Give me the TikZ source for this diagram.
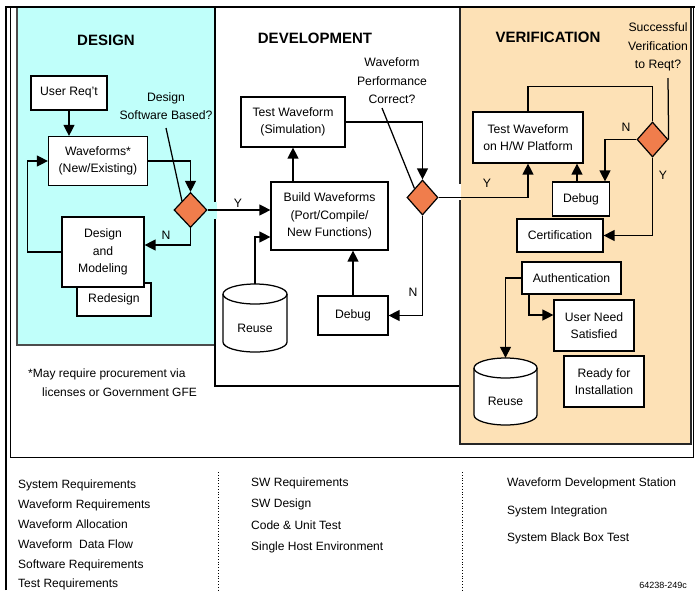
\documentclass[tikz,border=0pt]{standalone}
\usepackage{fontspec}
\setmainfont{Liberation Sans}
\usetikzlibrary{arrows.meta,shapes.geometric,calc}
\definecolor{designcyan}{RGB}{192,255,250}
\definecolor{verifytan}{RGB}{253,225,182}
\definecolor{decisionorange}{RGB}{240,125,76}

% storage drum: centre x, top y, bottom y, x radius
\newcommand\drawdrum[4]{%
  \fill[white] (#1-#4,#2+10) rectangle (#1+#4,#3-10);
  \fill[white] (#1,#3-10) ellipse[x radius=#4, y radius=10];
  \draw[link,fill=white] (#1,#2+10) ellipse[x radius=#4, y radius=10];
  \draw[link] (#1-#4,#2+10) -- (#1-#4,#3-10)
    arc[start angle=180, end angle=0, x radius=#4, y radius=10] -- (#1+#4,#2+10);
}

\begin{document}
\begin{tikzpicture}[x=1pt,y=-1pt,
  txt/.style={font=\fontsize{12.2}{17.5}\selectfont, inner sep=0pt, align=center},
  box/.style={txt, draw, fill=white, line width=1.2pt},
  decision/.style={diamond, draw, fill=decisionorange, line width=1.2pt, inner sep=0pt},
  link/.style={line width=1.25pt},
  flow/.style={link, -{Triangle[length=11pt,width=11pt]}},
  title/.style={font=\bfseries\fontsize{15}{18}\selectfont, inner sep=0pt},
  question/.style={txt, font=\fontsize{12.2}{18.5}\selectfont},
  note/.style={font=\fontsize{12}{14}\selectfont, inner sep=0pt, anchor=base west},
  drumspot/.style={inner sep=0pt}
]
\useasboundingbox (0,0) rectangle (695,590);

% ---- phase panels ----
\draw[line width=1.3pt, draw=black!70, fill=designcyan] (17,7) rectangle (215,345);
\draw[line width=1.3pt, fill=white] (215,7) rectangle (460,386);
\draw[line width=1.3pt, draw=black!85, fill=verifytan] (460,7) rectangle (691,444);
\fill[designcyan] (213.5,202) rectangle (216.5,219);
\fill[white] (455,184) rectangle (461,200);

% ---- frame ----
\draw[line width=1pt] (10,7) rectangle (693,457);
\draw[line width=2pt] (6,590) -- (6,7) -- (695,7);
\draw[dotted, line width=0.8pt] (218,472) -- (218,590);
\draw[dotted, line width=0.8pt] (462,472) -- (462,590);

% ---- design ----
\node[title] (destitle) at (106,40) {DESIGN};
\node[box, minimum width=76pt, minimum height=34pt] (ureq) at (69,93) {User Req't};
\node[box, minimum width=99pt, minimum height=49pt] (wave) at (98,161) {Waveforms*\\(New/Existing)};
\node[box, minimum width=74pt, minimum height=33pt] (redesign) at (114,299.5) {Redesign};
\node[box, minimum width=82pt, minimum height=70pt] (dm) at (103,252) {Design\\and\\Modeling};
\node[decision, minimum width=33pt, minimum height=35pt] (d1) at (190.5,210) {};
\node[txt] (q1) at (166,106) {Design\\Software Based?};
\coordinate (q1tip) at (166,128);

\draw[flow] (ureq.south) -- (ureq.south |- wave.north);
\draw[flow] (wave.east) -| (d1.north);
\draw[flow] (d1.south) |- ([yshift=7pt]dm.east);
\draw[flow] (dm.west) -- ++(-34,0) |- (wave.west);
\draw[link] (q1tip) -- (d1.north west);
\node[txt] (n1) at (166,235) {N};

% ---- development ----
\node[title] (devtitle) at (315,38) {DEVELOPMENT};
\node[question] (q2) at (392,81) {Waveform\\Performance\\Correct?};
\coordinate (q2tip) at (382,108);
\node[box, minimum width=104pt, minimum height=50pt] (tws) at (293,122) {Test Waveform\\(Simulation)};
\node[box, minimum width=117pt, minimum height=68pt] (build) at (329.5,216) {Build Waveforms\\(Port/Compile/\\New Functions)};
\node[decision, minimum width=31pt, minimum height=35pt] (d2) at (422.5,197.5) {};
\node[box, minimum width=70pt, minimum height=39pt] (dbg1) at (353,315.5) {Debug};
\drawdrum{255}{284}{352}{32}
\node[drumspot, minimum width=64pt, minimum height=68pt,
  label={[txt, yshift=-10pt]center:Reuse}] (reuse1) at (255,318) {};

\draw[flow] (d1.east) -- (d1.east -| build.west);
\node[txt] (y1) at (238,203) {Y};
\draw[flow] (reuse1.north) |- ([yshift=-21pt]build.west);
\draw[flow] (build.north -| tws.south) -- (tws.south);
\draw[flow] (tws.east) -| (d2.north);
\draw[link] (q2tip) -- (d2.north west);
\draw[flow] (d2.south) |- (dbg1.east);
\node[txt] (n2) at (413,292) {N};
\draw[flow] (dbg1.north) -- (dbg1.north |- build.south);

% ---- verification ----
\node[title] (vertitle) at (548,37) {VERIFICATION};
\node[question] (q3) at (658,47) {Successful\\Verification\\to Reqt?};
\coordinate (q3tip) at (668,78);
\node[box, minimum width=110pt, minimum height=51pt] (thw) at (528,137.5) {Test Waveform\\on H/W Platform};
\node[decision, minimum width=31pt, minimum height=35pt] (d3) at (652.5,139.5) {};
\node[box, minimum width=57pt, minimum height=34pt] (dbg2) at (581,199) {Debug};
\node[box, minimum width=86pt, minimum height=33pt] (cert) at (560,235.5) {Certification};
\node[box, minimum width=99pt, minimum height=32pt] (auth) at (571.5,278) {Authentication};
\node[box, minimum width=80pt, minimum height=51pt] (uns) at (594,325.5) {User Need\\Satisfied};
\node[box, minimum width=80pt, minimum height=51pt] (ready) at (604,381.5) {Ready for\\Installation};
\drawdrum{505.5}{358}{425}{31.5}
\node[drumspot, minimum width=63pt, minimum height=67pt,
  label={[txt, yshift=-10pt]center:Reuse}] (reuse2) at (505.5,391.5) {};

\draw[flow] (d2.east) -| (thw.south);
\node[txt] (y2) at (487,183) {Y};
\draw[link] (thw.north) -- ++(0,-25) -| (d3.north);
\draw[link] (q3tip) -- (d3.east);
\draw[flow] (d3.west) -| ([xshift=24pt]dbg2.north);
\node[txt] (n3) at (626,127) {N};
\draw[flow] ([xshift=-4pt]dbg2.north) -- ([xshift=-4pt]dbg2.north |- thw.south);
\draw[flow] (d3.south) |- (cert.east);
\node[txt] (y3) at (663,175) {Y};
\draw[flow] (auth.west) -| (reuse2.north);
\draw[flow] ([xshift=-42.5pt]auth.south) |- ([yshift=10.5pt]uns.west);

% ---- footnote ----
\node[note] (fn1) at (28,377) {*May require procurement via};
\node[note] (fn2) at (42,396) {licenses or Government GFE};

% ---- activity lists ----
\node[note] (a1) at (18,488) {System Requirements};
\node[note] (a2) at (18,508) {Waveform Requirements};
\node[note] (a3) at (18,528) {Waveform Allocation};
\node[note] (a4) at (18,548) {Waveform\ \ Data Flow};
\node[note] (a5) at (18,568) {Software Requirements};
\node[note] (a6) at (18,587) {Test Requirements};
\node[note] (b1) at (251,486) {SW Requirements};
\node[note] (b2) at (251,507) {SW Design};
\node[note] (b3) at (251,529) {Code \& Unit Test};
\node[note] (b4) at (251,550) {Single Host Environment};
\node[note] (c1) at (507,486) {Waveform Development Station};
\node[note] (c2) at (507,514) {System Integration};
\node[note] (c3) at (507,541) {System Black Box Test};
\node[font=\fontsize{9}{11}\selectfont, inner sep=0pt, anchor=base east] (code) at (687,588) {64238-249c};
\end{tikzpicture}
\end{document}
